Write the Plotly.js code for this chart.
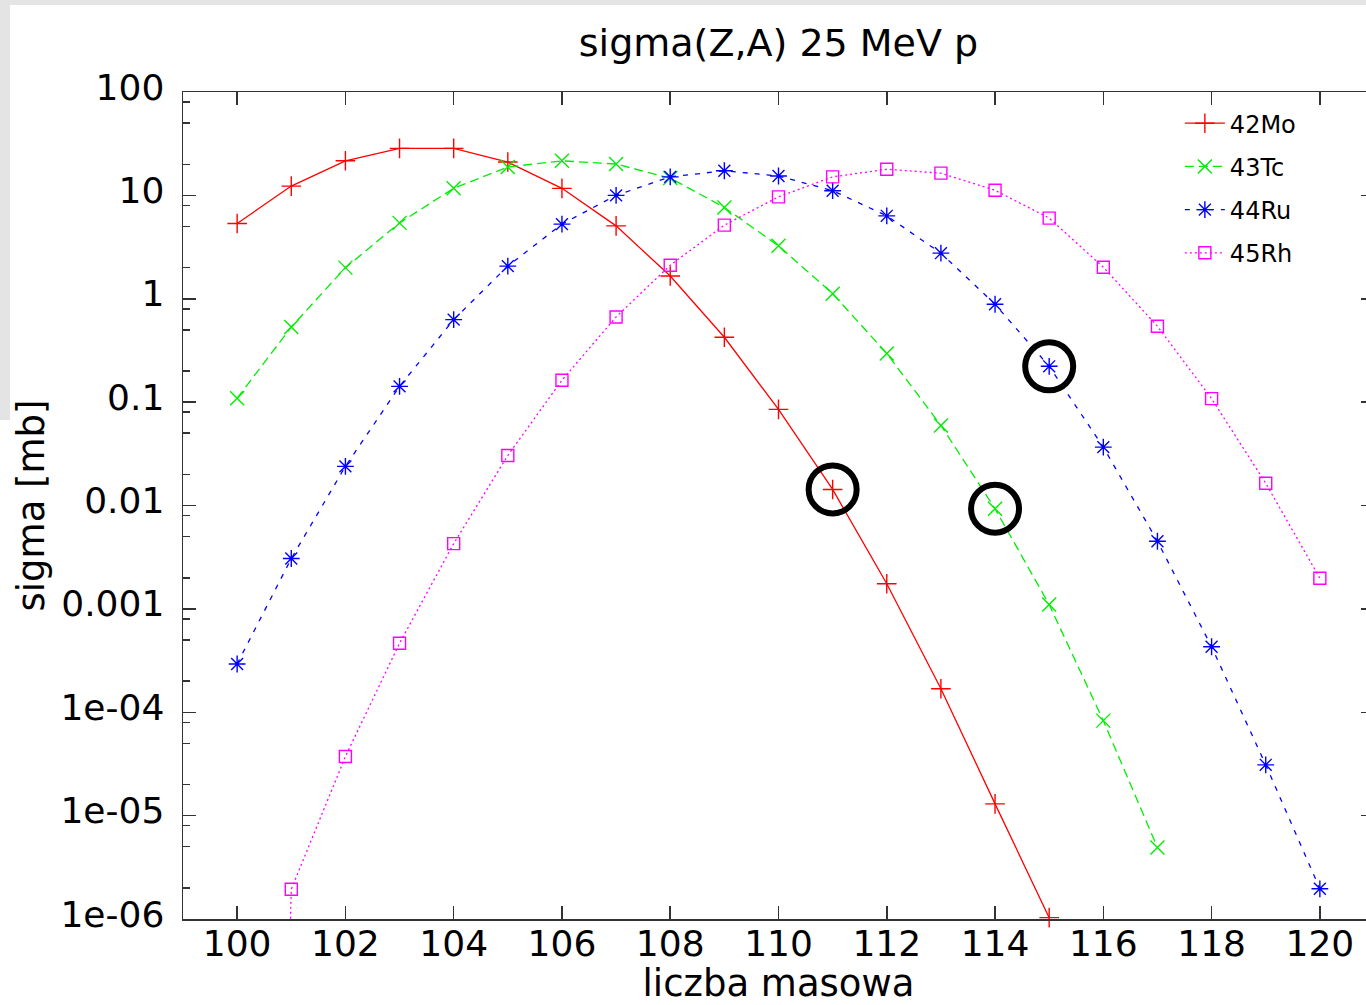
<!DOCTYPE html>
<html>
<head>
<meta charset="utf-8">
<script src="https://cdn.plot.ly/plotly-3.0.1.min.js"></script>
<style>
  html, body { margin: 0; padding: 0; background: #ffffff; overflow: hidden; width: 1366px; height: 1005px; }
  #plot { position: absolute; left: 0; top: 0; width: 1400px; height: 1005px; }
  .edge { position: absolute; background: #e4e4e4; z-index: 5; }
</style>
</head>
<body>
<div class="edge" style="left:0;top:0;width:1366px;height:5px;"></div>
<div class="edge" style="left:0;top:0;width:10px;height:420px;"></div>
<div id="plot"></div>
<script>
// ---- data ----
const massMo = [100,101,102,103,104,105,106,107,108,109,110,111,112,113,114,115];
const sigmaMo = [5.35,12.3,21.6,28.5,28.5,21.0,11.7,5.07,1.66,0.424,0.085,0.0143,0.00175,1.69e-4,1.3e-5,1.03e-6];

const massTc = [100,101,102,103,104,105,106,107,108,109,110,111,112,113,114,115,116,117];
const sigmaTc = [0.109,0.533,2.0,5.42,11.7,18.8,21.6,20.1,14.7,7.64,3.25,1.12,0.296,0.0595,0.0093,0.0011,8.3e-5,4.91e-6];

const massRu = [100,101,102,103,104,105,106,107,108,109,110,111,112,113,114,115,116,117,118,119,120];
const sigmaRu = [2.93e-4,0.00307,0.0239,0.142,0.628,2.07,5.27,10.0,15.1,17.3,15.4,11.1,6.34,2.76,0.885,0.222,0.0367,0.00451,4.3e-4,3.1e-5,1.96e-6];

const massRh = [100,101,102,103,104,105,106,107,108,109,110,111,112,113,114,115,116,117,118,119,120];
const sigmaRh = [1e-25,1.94e-6,3.73e-5,4.65e-4,0.00428,0.0305,0.163,0.667,2.11,5.15,9.68,15.1,17.9,16.4,11.2,6.03,2.02,0.542,0.108,0.0164,0.00198];

// highlighted points (circled in the reference): [series, mass number]
const highlightMass = [111, 114, 115];
const highlightSeries = ['Mo', 'Tc', 'Ru'];

const xTickVals = [100,102,104,106,108,110,112,114,116,118,120];
const yTickVals = [1e-6,1e-5,1e-4,0.001,0.01,0.1,1,10,100];
const yTickText = ['1e-06','1e-05','1e-04','0.001','0.01','0.1','1','10','100'];
const yMinorMultipliers = [2,5,8];
const seriesNames = ['42Mo','43Tc','44Ru','45Rh'];

// ---- build ----
const seriesLookup = {
  Mo: {x: massMo, y: sigmaMo},
  Tc: {x: massTc, y: sigmaTc},
  Ru: {x: massRu, y: sigmaRu}
};
const hx = [], hy = [];
highlightMass.forEach((m, i) => {
  const s = seriesLookup[highlightSeries[i]];
  const k = s.x.indexOf(m);
  hx.push(m); hy.push(s.y[k]);
});

const yMinorVals = [];
for (let e = -6; e < 2; e++) {
  yMinorMultipliers.forEach(mu => yMinorVals.push(mu * Math.pow(10, e)));
}

const FONT = 'DejaVu Sans, Liberation Sans, Arial, sans-serif';

const traces = [
  {x: massMo, y: sigmaMo, name: seriesNames[0], mode: 'lines+markers', legendgroup: 'a',
   line: {color: '#ff0000', width: 1.3}, cliponaxis: false,
   marker: {symbol: 'cross-thin-open', size: 14, color: '#ff0000', line: {color: '#ff0000', width: 1.4}}},
  {x: massTc, y: sigmaTc, name: seriesNames[1], mode: 'lines+markers', legendgroup: 'b',
   line: {color: '#00ee00', width: 1.3, dash: '9px,5px'}, cliponaxis: false,
   marker: {symbol: 'x-thin-open', size: 14, color: '#00ee00', line: {color: '#00ee00', width: 1.4}}},
  {x: massRu, y: sigmaRu, name: seriesNames[2], mode: 'lines+markers', legendgroup: 'c',
   line: {color: '#0000ff', width: 1.3, dash: '5px,7px'}, cliponaxis: false,
   marker: {symbol: 'asterisk-open', size: 14, color: '#0000ff', line: {color: '#0000ff', width: 1.4}}},
  {x: massRh, y: sigmaRh, name: seriesNames[3], mode: 'lines+markers', legendgroup: 'd',
   line: {color: '#ff00ff', width: 1.3, dash: '2px,3px'}, cliponaxis: false,
   marker: {symbol: 'square-open', size: 12, color: '#ff00ff', line: {color: '#ff00ff', width: 1.4}}},
  {x: hx, y: hy, mode: 'markers', showlegend: false, hoverinfo: 'skip', cliponaxis: false,
   marker: {symbol: 'circle-open', size: 48, color: '#000000', line: {color: '#000000', width: 6}}}
];

const axisCommon = {
  showline: true, linecolor: '#333333', linewidth: 1.5, mirror: 'ticks',
  ticks: 'inside', ticklen: 13, tickwidth: 1.5, tickcolor: '#333333',
  showgrid: false, zeroline: false,
  tickfont: {family: FONT, size: 36, color: '#000000'}
};

const layout = {
  width: 1400, height: 1005,
  margin: {l: 183, r: 26, t: 92, b: 86},
  paper_bgcolor: 'rgba(0,0,0,0)', plot_bgcolor: '#ffffff',
  font: {family: FONT, color: '#000000'},
  title: {text: 'sigma(Z,A) 25 MeV p', font: {family: FONT, size: 38, color: '#000000'},
          x: 0.5, xref: 'paper', y: 1 - 43/1005, yref: 'container', yanchor: 'middle'},
  xaxis: Object.assign({}, axisCommon, {
    range: [99, 121], tickmode: 'array', tickvals: xTickVals,
    ticklabelstandoff: -8,
    title: {text: 'liczba masowa', font: {family: FONT, size: 37, color: '#000000'}, standoff: 16}
  }),
  yaxis: Object.assign({}, axisCommon, {
    type: 'log', range: [-6, 2], tickmode: 'array', tickvals: yTickVals, ticktext: yTickText,
    ticklabelstandoff: 10, ticklabelshift: -5,
    minor: {tickmode: 'array', tickvals: yMinorVals, ticks: 'inside', ticklen: 6.5, tickwidth: 1.5, tickcolor: '#333333', showgrid: false},
    title: {text: 'sigma [mb]', font: {family: FONT, size: 37, color: '#000000'}, standoff: 4}
  }),
  showlegend: true,
  legend: {x: 0.837, xanchor: 'left', y: 0.989, yanchor: 'top', bgcolor: 'rgba(0,0,0,0)',
           borderwidth: 0, font: {family: FONT, size: 24, color: '#000000'},
           tracegroupgap: 9, itemwidth: 40}
};

Plotly.newPlot('plot', traces, layout, {displayModeBar: false, staticPlot: true});
</script>
</body>
</html>
